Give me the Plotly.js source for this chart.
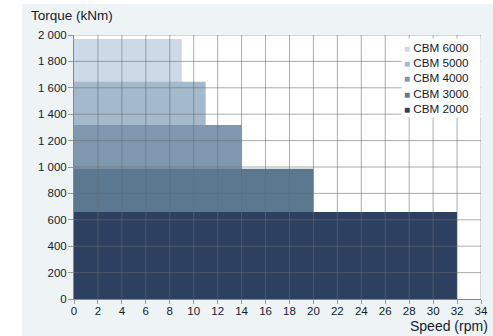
<!DOCTYPE html>
<html><head><meta charset="utf-8">
<script src="https://cdn.plot.ly/plotly-3.0.1.min.js"></script>
<style>html,body{margin:0;padding:0;background:#fff;overflow:hidden}#chart{position:absolute;left:22px;top:4px;width:471px;height:332px}</style>
</head><body><div id="chart"></div>
<script>
const models = ['CBM 6000', 'CBM 5000', 'CBM 4000', 'CBM 3000', 'CBM 2000'];
const maxSpeed = [9, 11, 14, 20, 32];
const maxTorque = [1970, 1645, 1318, 987, 660];
const colors = ['#cdd9e6', '#a4b9cb', '#7f98b0', '#5c7890', '#2e4060'];
const xTickVals = [0, 2, 4, 6, 8, 10, 12, 14, 16, 18, 20, 22, 24, 26, 28, 30, 32, 34];
const yTickVals = [0, 200, 400, 600, 800, 1000, 1200, 1400, 1600, 1800, 2000];
const yTickText = ['0', '200', '400', '600', '800', '1 000', '1 200', '1 400', '1 600', '1 800', '2 000'];

const textColor = '#141d30';
const gridColor = 'rgba(105,105,105,0.55)';

const traces = models.map((m, i) => ({
  type: 'bar',
  name: m,
  x: [maxSpeed[i] / 2],
  width: [maxSpeed[i]],
  y: [maxTorque[i]],
  base: 0,
  showlegend: false,
  marker: {color: colors[i], line: {width: 0}},
  hoverinfo: 'name+y'
}));

const shapes = [];
xTickVals.slice(1).forEach(v => shapes.push({type: 'line', xref: 'x', yref: 'paper', x0: v, x1: v, y0: 0, y1: 1, line: {color: gridColor, width: 1}}));
yTickVals.slice(1).forEach(v => shapes.push({type: 'line', xref: 'paper', yref: 'y', x0: 0, x1: 1, y0: v, y1: v, line: {color: gridColor, width: 1}}));

// legend drawn as one text block, built from the series names and colours
const legendText = models.map((m, i) =>
  '<span style="color:' + colors[i] + ';font-size:10px">\u25A0</span>\u00a0' + m + '\u00a0\u00a0\u00a0'
).join('<br>');

const layout = {
  width: 471, height: 332,
  margin: {l: 52, r: 12, t: 31, b: 37},
  paper_bgcolor: '#eef3f6',
  plot_bgcolor: '#ffffff',
  barmode: 'overlay',
  showlegend: false,
  font: {family: 'Liberation Sans, Arial, sans-serif', size: 11, color: textColor},
  xaxis: {
    range: [0, 34], tickvals: xTickVals, ticktext: xTickVals.map(String),
    showgrid: false, zeroline: false, showline: true, linecolor: '#888', linewidth: 1,
    ticks: 'outside', ticklen: 4, tickcolor: '#999', ticklabelstandoff: -3,
    tickfont: {size: 11.5, color: textColor}
  },
  yaxis: {
    range: [0, 2000], tickvals: yTickVals, ticktext: yTickText,
    showgrid: false, zeroline: false, showline: true, linecolor: '#888', linewidth: 1,
    ticks: 'outside', ticklen: 5, tickcolor: '#999', ticklabelstandoff: -1,
    tickfont: {size: 11.5, color: textColor}
  },
  shapes: shapes,
  annotations: [
    {text: 'Torque (kNm)', xref: 'paper', yref: 'paper', x: -0.1106, y: 1.072, xanchor: 'left', yanchor: 'middle', showarrow: false, font: {size: 13.5, color: textColor}},
    {text: 'Speed (rpm)', xref: 'paper', yref: 'paper', x: 1.022, y: -0.103, xanchor: 'right', yanchor: 'middle', showarrow: false, font: {size: 14, color: textColor}},
    {text: legendText, xref: 'paper', yref: 'paper', x: 1.0, y: 0.989, xanchor: 'right', yanchor: 'top', align: 'left',
     showarrow: false, bgcolor: '#ffffff', borderpad: 2, font: {size: 11.7, color: textColor}}
  ]
};

Plotly.newPlot('chart', traces, layout, {displayModeBar: false, staticPlot: true});
</script></body></html>
